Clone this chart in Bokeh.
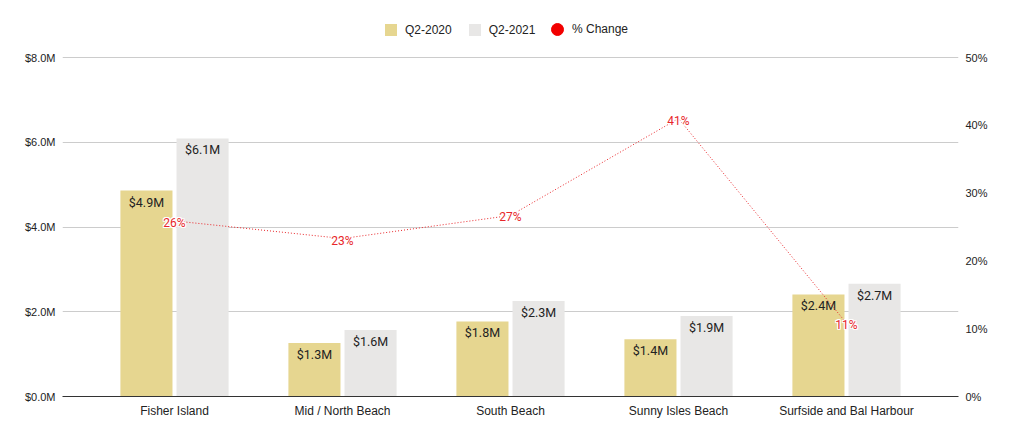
from bokeh.core.properties import value
from bokeh.embed import file_html
from bokeh.models import (ColumnDataSource, FactorRange, Range1d, LinearAxis, FixedTicker,
                          PrintfTickFormatter, Legend, LegendItem)
from bokeh.plotting import figure
from bokeh.resources import INLINE
from bokeh.transform import dodge

neighborhoods = ['Fisher Island', 'Mid / North Beach', 'South Beach',
                 'Sunny Isles Beach', 'Surfside and Bal Harbour']
q2_2020 = [4.86, 1.26, 1.77, 1.35, 2.41]   # $M
q2_2021 = [6.09, 1.57, 2.251, 1.90, 2.66]  # $M
pct_change = [25.9, 23.3, 26.7, 41.0, 10.8]  # %

left_ticks = [0, 2, 4, 6, 8]
right_ticks = [0, 10, 20, 30, 40, 50]

GOLD = '#E6D690'
GREY = '#E8E7E6'
RED = '#E8262A'
AXIS_FONT = 'Liberation Sans'
LABEL_FONT = value('Roboto')

source = ColumnDataSource(dict(
    area=neighborhoods,
    q20=q2_2020,
    q21=q2_2021,
    pct=pct_change,
    q20_label=[f'${v:.1f}M' for v in q2_2020],
    q21_label=[f'${v:.1f}M' for v in q2_2021],
    pct_label=[f'{v:.0f}%' for v in pct_change],
))

# frame runs to the top edge so the legend can sit inside it;
# the ranges are stretched so $8.0M / 50% land 57px from the top
top_room = 57 / 339
p = figure(x_range=FactorRange(*neighborhoods, range_padding=1/6, range_padding_units='absolute'),
           y_range=Range1d(0, 8 * (1 + top_room)),
           width=996, height=423,
           output_backend='svg', toolbar_location=None, tools='',
           min_border_left=62, min_border_right=38, min_border_top=0, min_border_bottom=27)
p.outline_line_color = None
p.extra_y_ranges = {'pct': Range1d(0, 50 * (1 + top_room))}

bar_w = 0.31
r20 = p.vbar(x=dodge('area', -0.167, range=p.x_range), top='q20', width=bar_w, source=source,
             fill_color=GOLD, line_color=None)
r21 = p.vbar(x=dodge('area', 0.167, range=p.x_range), top='q21', width=bar_w, source=source,
             fill_color=GREY, line_color=None)

for col, off in (('q20', -0.167), ('q21', 0.167)):
    p.text(x=dodge('area', off, range=p.x_range), y=col, text=col + '_label', source=source,
           text_font=LABEL_FONT, text_font_size='12.5px', text_color='#222',
           text_align='center', text_baseline='top', y_offset=4)

p.line(x='area', y='pct', source=source, y_range_name='pct',
       line_color=RED, line_width=1, line_dash='1 2')

# white halo behind the % labels
for dx, dy in ((-1, 0), (1, 0), (0, -1), (0, 1), (-1, -1), (1, 1), (-1, 1), (1, -1)):
    p.text(x='area', y='pct', text='pct_label', source=source, y_range_name='pct',
           text_font=LABEL_FONT, text_font_size='12px', text_color='white',
           text_align='center', text_baseline='middle', x_offset=dx, y_offset=dy + 2)
p.text(x='area', y='pct', text='pct_label', source=source, y_range_name='pct',
       text_font=LABEL_FONT, text_font_size='12px', text_color=RED,
       text_align='center', text_baseline='middle', y_offset=2)

# legend-only marker (no visible point)
dot = p.scatter(x=[neighborhoods[0]], y=[float('nan')], size=12, color='#F20000')

# axes
p.xaxis.axis_line_color = '#333333'
p.xaxis.major_label_text_font = AXIS_FONT
p.xaxis.major_label_text_font_size = '12px'
p.xaxis.major_label_text_color = '#222222'

p.yaxis.ticker = FixedTicker(ticks=left_ticks)
p.yaxis.formatter = PrintfTickFormatter(format='$%.1fM')
right = LinearAxis(y_range_name='pct', ticker=FixedTicker(ticks=right_ticks),
                   formatter=PrintfTickFormatter(format='%d%%'))
p.add_layout(right, 'right')
for ax in (p.yaxis[0], right):
    ax.axis_line_color = None
    ax.major_label_text_font = AXIS_FONT
    ax.major_label_text_font_size = '11px'
    ax.major_label_text_color = '#222222'
for ax in (p.xaxis[0], p.yaxis[0], right):
    ax.major_tick_line_color = None
    ax.minor_tick_line_color = None
    ax.major_tick_out = 0
    ax.major_tick_in = 0
    ax.minor_tick_out = 0
    ax.major_label_standoff = 7

p.xgrid.grid_line_color = None
p.ygrid.grid_line_color = '#CCCCCC'
p.ygrid.ticker = FixedTicker(ticks=left_ticks)

legend_style = dict(orientation='horizontal', label_text_font=AXIS_FONT,
                    label_text_font_size='12px', label_text_color='#222222',
                    border_line_color=None, background_fill_alpha=0, padding=0, margin=0)
bar_legend = Legend(items=[LegendItem(label='Q2-2020', renderers=[r20]),
                           LegendItem(label='Q2-2021', renderers=[r21])],
                    location=(321, 359), glyph_width=15, glyph_height=15,
                    label_standoff=7, spacing=15, **legend_style)
dot_legend = Legend(items=[LegendItem(label='% Change', renderers=[dot])],
                    location=(480, 352), glyph_width=30, glyph_height=30,
                    label_standoff=0, **legend_style)
p.add_layout(bar_legend, 'center')
p.add_layout(dot_legend, 'center')

open('out.html', 'w').write(file_html(p, INLINE))
